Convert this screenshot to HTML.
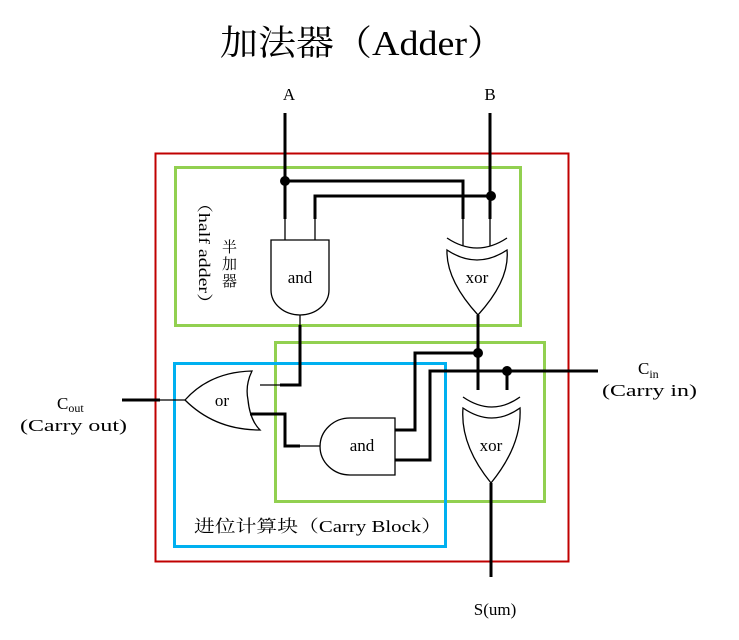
<!DOCTYPE html>
<html><head><meta charset="utf-8"><style>
html,body{margin:0;padding:0;background:#fff;}
svg{display:block;}
text{font-family:"Liberation Serif","Noto Serif CJK SC","Noto Sans CJK SC",serif;fill:#000;}
</style></head><body>
<svg width="739" height="640" viewBox="0 0 739 640" xmlns="http://www.w3.org/2000/svg">
<text x="220" y="55" font-size="35" textLength="285" lengthAdjust="spacingAndGlyphs">加法器（Adder）</text>
<rect x="155.5" y="153.5" width="413" height="408" fill="none" stroke="#c00000" stroke-width="2"/>
<rect x="175.5" y="167.5" width="345" height="158" fill="none" stroke="#92d050" stroke-width="3"/>
<rect x="275.5" y="342.5" width="269" height="159" fill="none" stroke="#92d050" stroke-width="3"/>
<rect x="174.5" y="363.5" width="271" height="183" fill="none" stroke="#00b0f0" stroke-width="3"/>

<text x="289" y="100" font-size="17" text-anchor="middle">A</text>
<text x="490" y="100" font-size="17" text-anchor="middle">B</text>

<g fill="none" stroke="#000">
<g stroke-width="3">
<path d="M285 113 V219"/>
<path d="M490 113 V219"/>
<path d="M285 181 H463 V219"/>
<path d="M491 196 H315 V219"/>
<path d="M300 325 V385 H280"/>
<path d="M250 414 H285 V446 H300"/>
<path d="M395 430 H415 V353 H478"/>
<path d="M395 460 H430 V371 H598"/>
<path d="M478 315 V390"/>
<path d="M507 371 V390"/>
<path d="M491 483 V577"/>
<path d="M122 400 H160"/>
</g>
<g stroke-width="1.3">
<path d="M285 219 V240 M315 219 V240 M463 219 V246 M490 219 V246"/>
<path d="M300 315 V325"/>
<path d="M160 400 H185"/>
<path d="M260 385 H280 M256 414 H285 M300 446 H320"/>
<path d="M271 240 H329 V290 A29 25 0 0 1 271 290 Z"/>
<path d="M447 250 Q477 270 507 250 Q510 280 478 315 Q446 280 447 250 Z"/>
<path d="M447 238 Q477 258 507 238"/>
<path d="M185 400 Q210 372 252 371 Q245 385 248 400 Q250 420 260 430 Q215 430 185 400 Z"/>
<path d="M395 418 V475 H350 A30 28.5 0 0 1 350 418 Z"/>
<path d="M463 408 Q492 428 520 408 Q522 445 491 483 Q460 445 463 408 Z"/>
<path d="M463 397 Q492 417 520 397"/>
</g>
</g>
<g fill="#000">
<circle cx="285" cy="181" r="5"/>
<circle cx="491" cy="196" r="5"/>
<circle cx="478" cy="353" r="5"/>
<circle cx="507" cy="371" r="5"/>
</g>

<text x="300" y="283" font-size="17" text-anchor="middle">and</text>
<text x="477" y="283" font-size="17" text-anchor="middle">xor</text>
<text x="222" y="406" font-size="17" text-anchor="middle">or</text>
<text x="362" y="451" font-size="17" text-anchor="middle">and</text>
<text x="491" y="451" font-size="17" text-anchor="middle">xor</text>

<text x="222" y="252" font-size="15">半</text>
<text x="222" y="269" font-size="15">加</text>
<text x="222" y="286" font-size="15">器</text>
<text transform="translate(199,193) rotate(90)" font-size="16" textLength="120" lengthAdjust="spacingAndGlyphs">（half adder）</text>

<text x="194" y="532" font-size="17" textLength="248" lengthAdjust="spacingAndGlyphs">进位计算块（Carry Block）</text>

<text x="638" y="374" font-size="17">C<tspan font-size="12" dy="4">in</tspan></text>
<text x="602" y="396" font-size="17" textLength="95" lengthAdjust="spacingAndGlyphs">(Carry in)</text>
<text x="57" y="409" font-size="17">C<tspan font-size="12" dy="3">out</tspan></text>
<text x="20" y="431" font-size="17" textLength="107" lengthAdjust="spacingAndGlyphs">(Carry out)</text>
<text x="495" y="615" font-size="17" text-anchor="middle">S(um)</text>
</svg>
</body></html>
